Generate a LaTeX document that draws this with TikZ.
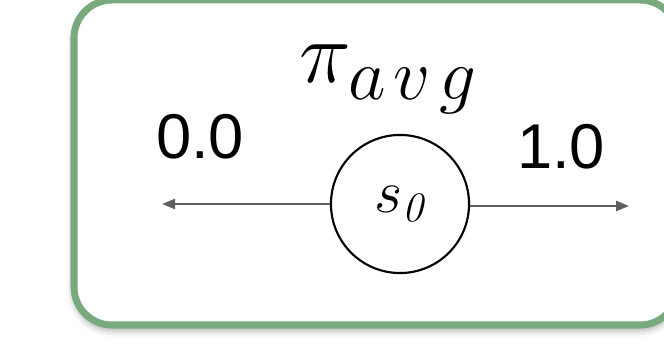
\documentclass[tikz,border=0pt]{standalone}
\usepackage{fontspec}
\usepackage{tikz}
\usetikzlibrary{arrows.meta, positioning, shadows.blur}
\newfontfamily\labelfont{Liberation Sans}
\definecolor{pgGreen}{RGB}{120,170,125}
\definecolor{pgGrey}{RGB}{95,95,95}

\begin{document}
\begin{tikzpicture}[
    x=0.01cm, y=-0.01cm,
    frame/.style={draw=pgGreen, line width=0.07cm, fill=white,
                  rounded corners=0.38cm,
                  blur shadow={shadow xshift=0pt, shadow yshift=-0.05cm,
                               shadow blur radius=0.07cm, shadow opacity=35}},
    state/.style={draw, circle, line width=0.6pt, minimum size=1.38cm,
                  inner sep=0pt, font=\fontsize{17}{20}\selectfont},
    val/.style={font=\labelfont\fontsize{18}{22}\selectfont, inner sep=0pt},
    arr/.style={-{Triangle[length=0.13cm, width=0.1cm]}, line width=0.7pt,
                draw=pgGrey}
]
\useasboundingbox (0,0) rectangle (664,346);

% policy panel
\draw[frame] (74,0) rectangle (678,325);

\node[font=\fontsize{27}{30}\selectfont, anchor=base west, inner sep=0pt]
  (title) at (299,83)
  {$\pi_{\raisebox{-1pt}{\fontsize{20}{24}\selectfont$a\mkern2mu v\mkern2mu g$}}$};

\node[state] (s0) at (400,204) {$s_{\mathit{0}}$};

\coordinate (left)  at (162,204);
\coordinate (right) at (629,206);

\node[val] (lbl0) at (200,137) {0.0};
\node[val] (lbl1) at (561,147) {1.0};

\draw[arr] (s0.west) -- (left);
\draw[arr] (s0.east |- right) -- (right);
\end{tikzpicture}
\end{document}
